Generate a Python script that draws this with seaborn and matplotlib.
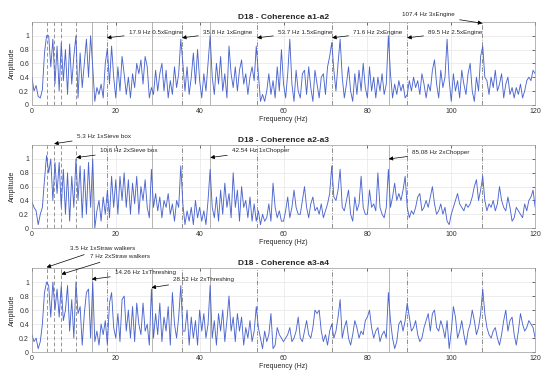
import numpy as np
import pandas as pd
import matplotlib
matplotlib.use("Agg")
import matplotlib.pyplot as plt
import seaborn as sns

# frequency axis (0.5 Hz steps) and coherence values
freq = np.arange(0, 120.5, 0.5)

coh_a1_a2 = [
    0.40, 0.20, 0.28, 0.12, 0.10, 0.22, 0.75, 1.00, 1.00, 0.55, 0.95, 0.30, 0.85, 0.20, 0.90, 0.35, 0.80, 0.15, 0.88, 0.30,
    0.70, 1.00, 0.10, 0.75, 0.25, 0.60, 0.95, 0.40, 1.00, 0.55, 0.05, 0.25, 0.15, 0.30, 0.10, 0.60, 0.82, 0.30, 0.85, 0.40,
    0.10, 0.55, 0.20, 0.70, 0.45, 0.15, 0.40, 0.10, 0.45, 0.25, 0.60, 0.45, 0.65, 0.30, 0.70, 0.55, 0.10, 0.25, 0.15, 0.50,
    0.20, 0.45, 0.60, 0.20, 0.50, 0.10, 0.35, 0.15, 0.55, 0.25, 0.45, 0.95, 0.60, 0.20, 0.55, 0.15, 0.40, 0.75, 0.30, 0.80,
    0.35, 0.10, 0.45, 0.20, 0.60, 1.00, 0.40, 0.15, 0.60, 0.30, 0.70, 0.20, 0.45, 0.10, 0.85, 0.45, 0.25, 0.55, 0.20, 0.50,
    0.65, 0.30, 0.45, 0.15, 0.40, 0.55, 0.35, 0.85, 0.45, 0.05, 0.15, 0.05, 0.20, 0.45, 0.15, 0.35, 0.10, 0.55, 0.20, 0.80,
    0.30, 0.10, 0.45, 0.95, 0.30, 0.05, 0.50, 0.20, 0.10, 0.45, 0.50, 0.15, 0.55, 0.25, 0.05, 0.50, 0.30, 0.10, 0.40, 0.45,
    0.15, 0.55, 0.70, 0.90, 0.50, 0.20, 0.60, 0.95, 0.40, 0.10, 0.30, 0.55, 0.20, 0.05, 0.45, 0.15, 0.50, 0.20, 0.60, 0.25,
    0.10, 0.55, 0.20, 0.40, 0.10, 0.40, 0.20, 0.45, 0.15, 0.30, 1.00, 0.45, 0.10, 0.30, 0.15, 0.35, 0.20, 0.30, 0.10, 0.15,
    0.35, 0.20, 0.40, 0.25, 0.35, 0.15, 0.45, 0.30, 0.10, 0.30, 0.20, 0.50, 0.65, 0.30, 0.10, 0.50, 0.25, 0.40, 0.95, 0.35,
    0.05, 0.45, 0.20, 0.35, 0.10, 0.50, 0.30, 0.15, 0.45, 0.60, 0.20, 0.05, 0.40, 0.20, 0.70, 0.85, 0.40, 0.35, 0.15, 0.40,
    0.25, 0.50, 0.20, 0.30, 0.45, 0.10, 0.30, 0.40, 0.15, 0.25, 0.10, 0.25, 0.15, 0.30, 0.10, 0.20, 0.35, 0.40, 0.35, 0.50,
    0.45,
]

coh_a2_a3 = [
    0.38, 0.30, 0.25, 0.05, 0.20, 0.30, 0.70, 1.05, 0.80, 1.00, 0.40, 0.95, 0.50, 0.95, 0.30, 0.85, 0.20, 0.80, 0.10, 0.75,
    0.30, 1.00, 0.40, 0.90, 0.15, 0.85, 0.20, 0.95, 0.30, 1.00, 0.00, 0.25, 0.40, 0.10, 0.45, 0.20, 0.55, 0.15, 0.75, 0.30,
    0.70, 0.20, 0.75, 0.40, 0.80, 0.30, 0.70, 0.20, 0.65, 0.35, 0.75, 0.20, 0.60, 0.40, 0.70, 0.30, 0.15, 0.85, 0.30, 0.50,
    0.25, 0.45, 0.15, 0.40, 0.30, 0.50, 0.20, 0.35, 0.10, 0.40, 0.30, 0.90, 0.35, 0.05, 0.25, 0.10, 0.30, 0.05, 0.40, 0.15,
    0.30, 0.10, 0.25, 0.05, 0.40, 0.85, 0.30, 0.15, 0.45, 0.10, 0.55, 0.20, 0.65, 0.30, 0.50, 0.15, 0.80, 0.30, 0.55, 0.10,
    0.60, 0.30, 0.40, 0.15, 0.45, 0.10, 0.35, 0.10, 0.25, 0.05, 0.20, 0.10, 0.15, 0.35, 0.10, 0.65, 0.30, 0.15, 0.25, 0.10,
    0.10, 0.25, 0.45, 0.15, 0.30, 0.55, 0.30, 0.20, 0.20, 0.40, 0.60, 0.30, 0.15, 0.35, 0.45, 0.25, 0.30, 0.20, 0.35, 0.15,
    0.25, 0.35, 0.50, 0.90, 0.45, 0.40, 0.55, 0.85, 0.30, 0.25, 0.40, 0.55, 0.20, 0.10, 0.45, 0.25, 0.35, 0.75, 0.30, 0.20,
    0.20, 0.55, 0.30, 0.35, 0.25, 0.80, 0.30, 0.20, 0.15, 0.30, 0.85, 0.30, 0.45, 0.65, 0.40, 0.50, 0.40, 0.55, 0.75, 0.30,
    0.15, 0.25, 0.20, 0.30, 0.45, 0.50, 0.25, 0.30, 0.40, 0.30, 0.45, 0.60, 0.35, 0.20, 0.25, 0.35, 0.20, 0.30, 0.10, 0.05,
    0.20, 0.30, 0.40, 0.50, 0.35, 0.30, 0.25, 0.35, 0.30, 0.35, 0.45, 0.60, 0.70, 0.40, 0.55, 0.75, 0.40, 0.25, 0.35, 0.30,
    0.40, 0.25, 0.35, 0.60, 0.40, 0.30, 0.25, 0.45, 0.30, 0.10, 0.15, 0.30, 0.25, 0.20, 0.15, 0.35, 0.25, 0.40, 0.45, 0.55,
    0.30,
]

coh_a3_a4 = [
    0.25, 0.15, 0.20, 0.05, 0.15, 0.40, 0.85, 1.00, 0.95, 0.50, 1.00, 0.60, 0.90, 0.50, 0.95, 0.45, 0.60, 0.95, 0.30, 0.75,
    0.20, 1.00, 0.55, 0.65, 0.10, 0.55, 0.85, 0.90, 0.20, 1.00, 0.15, 0.30, 0.10, 0.40, 0.25, 0.45, 0.10, 0.70, 0.85, 0.35,
    0.20, 0.55, 0.15, 0.75, 0.80, 0.30, 0.60, 0.20, 0.65, 0.15, 0.70, 0.40, 0.25, 0.70, 0.30, 0.40, 0.10, 0.90, 0.20, 0.55,
    0.25, 0.70, 0.15, 0.50, 0.30, 0.65, 0.10, 0.85, 0.40, 0.20, 0.50, 0.95, 0.30, 0.30, 0.60, 0.10, 0.50, 0.20, 0.45, 0.10,
    0.60, 0.30, 0.55, 0.20, 0.40, 0.95, 0.20, 0.45, 0.10, 0.55, 0.30, 0.60, 0.15, 0.45, 0.80, 0.30, 0.50, 0.15, 0.55, 0.30,
    0.50, 0.10, 0.35, 0.20, 0.45, 0.15, 0.30, 0.65, 0.35, 0.20, 0.05, 0.30, 0.15, 0.25, 0.55, 0.05, 0.10, 0.35, 0.25, 0.20,
    0.15, 0.20, 0.25, 0.35, 0.15, 0.20, 0.30, 0.50, 0.20, 0.15, 0.30, 0.45, 0.25, 0.20, 0.35, 0.60, 0.55, 0.60, 0.30, 0.15,
    0.25, 0.10, 0.30, 0.40, 0.20, 0.30, 0.50, 0.75, 0.20, 0.35, 0.45, 0.20, 0.10, 0.25, 0.45, 0.35, 0.20, 0.30, 0.25, 0.45,
    0.50, 0.60, 0.35, 0.20, 0.30, 0.35, 0.15, 0.25, 0.30, 0.20, 0.85, 0.45, 0.20, 0.05, 0.15, 0.40, 0.45, 0.30, 0.45, 0.70,
    0.50, 0.30, 0.35, 0.45, 0.25, 0.15, 0.20, 0.35, 0.45, 0.55, 0.30, 0.55, 0.60, 0.35, 0.30, 0.45, 0.35, 0.20, 0.45, 0.05,
    0.30, 0.65, 0.50, 0.20, 0.30, 0.45, 0.25, 0.10, 0.30, 0.40, 0.60, 0.45, 0.25, 0.35, 0.55, 0.90, 0.55, 0.35, 0.25, 0.20,
    0.30, 0.35, 0.20, 0.10, 0.25, 0.45, 0.60, 0.30, 0.45, 0.50, 0.25, 0.10, 0.30, 0.55, 0.40, 0.30, 0.35, 0.45, 0.40, 0.35,
    0.20,
]

# characteristic frequencies of the machine parts (Hz)
straw_walkers = [3.5, 7.0]
sieve_box = [5.3, 10.6]
threshing = [14.26, 28.52]
chopper = [42.54, 85.08]
engine = [17.9, 35.8, 53.7, 71.6, 89.5, 107.4]

titles = ["D18 - Coherence a1-a2", "D18 - Coherence a2-a3", "D18 - Coherence a3-a4"]

# annotations per panel: (label, target freq, target amp, text x, text y)
notes = [
    [("17.9 Hz 0.5xEngine", 17.9, 0.97, 23.1, 1.05),
     ("35.8 Hz 1xEngine", 35.8, 0.97, 40.8, 1.05),
     ("53.7 Hz 1.5xEngine", 53.7, 0.97, 58.7, 1.05),
     ("71.6 Hz 2xEngine", 71.6, 0.97, 76.6, 1.05),
     ("89.5 Hz 2.5xEngine", 89.5, 0.97, 94.5, 1.05),
     ("107.4 Hz 3xEngine", 107.4, 1.18, 88.3, 1.30)],
    [("5.3 Hz 1xSieve box", 5.3, 1.22, 10.7, 1.33),
     ("10.6 Hz 2xSieve box", 10.6, 1.02, 16.2, 1.12),
     ("42.54 Hz 1xChopper", 42.54, 1.02, 47.7, 1.12),
     ("85.08 Hz 2xChopper", 85.08, 1.00, 90.7, 1.10)],
    [("3.5 Hz 1xStraw walkers", 3.5, 1.21, 9.1, 1.48),
     ("7 Hz 2xStraw walkers", 7.0, 1.11, 13.8, 1.37),
     ("14.26 Hz 1xThreshing", 14.26, 1.04, 19.8, 1.14),
     ("28.52 Hz 2xThreshing", 28.52, 0.92, 33.7, 1.04)],
]

sns.set_theme(style="whitegrid")
plt.rcParams['font.family'] = ['Liberation Sans', 'DejaVu Sans']

fig = plt.figure(figsize=(5.5, 3.84), dpi=100)
positions = [[0.058, 0.727, 0.915, 0.216],
             [0.058, 0.406, 0.915, 0.216],
             [0.058, 0.083, 0.915, 0.219]]

for k, values in enumerate([coh_a1_a2, coh_a2_a3, coh_a3_a4]):
    ax = fig.add_axes(positions[k])
    df = pd.DataFrame({"freq": freq, "amp": values})

    # marker lines for the machine frequencies
    for f in straw_walkers + sieve_box:
        ax.axvline(f, color="#7a7a7a", ls=(0, (5, 3)), lw=0.55, zorder=1)
    for f in threshing + chopper:
        ax.axvline(f, color="#a8a8a8", ls="-", lw=0.6, zorder=1)
    for f in engine:
        ax.axvline(f, color="#707070", ls=(0, (6, 2, 1, 2)), lw=0.55, zorder=1)

    sns.lineplot(data=df, x="freq", y="amp", ax=ax, color="#4c66cf", lw=0.65, zorder=2)

    ax.set_xlim(0, 120)
    ax.set_ylim(0, 1.2)
    ax.set_xticks([0, 20, 40, 60, 80, 100, 120])
    ax.set_yticks([0, 0.2, 0.4, 0.6, 0.8, 1])
    ax.set_yticklabels(["0", "0.2", "0.4", "0.6", "0.8", "1"])
    ax.set_title(titles[k], fontsize=6, fontweight="bold", pad=2)
    ax.set_xlabel("Frequency (Hz)", fontsize=5, labelpad=1)
    ax.set_ylabel("Amplitude", fontsize=5, labelpad=2)
    ax.tick_params(axis="both", labelsize=5, direction="in", length=2, width=0.5,
                   pad=2, colors="#333333", top=True, right=True)
    ax.grid(True, color="#e6e6e6", lw=0.5)
    for s in ax.spines.values():
        s.set_color("#999999")
        s.set_linewidth(0.5)

    for label, fx, fy, tx, ty in notes[k]:
        ax.annotate(label, xy=(fx, fy), xytext=(tx, ty), fontsize=4.5,
                    ha="left", va="center", annotation_clip=False,
                    arrowprops=dict(arrowstyle="-|>", color="black", lw=0.5,
                                    mutation_scale=6, shrinkA=1, shrinkB=0))

fig.savefig("out.png", dpi=100)
